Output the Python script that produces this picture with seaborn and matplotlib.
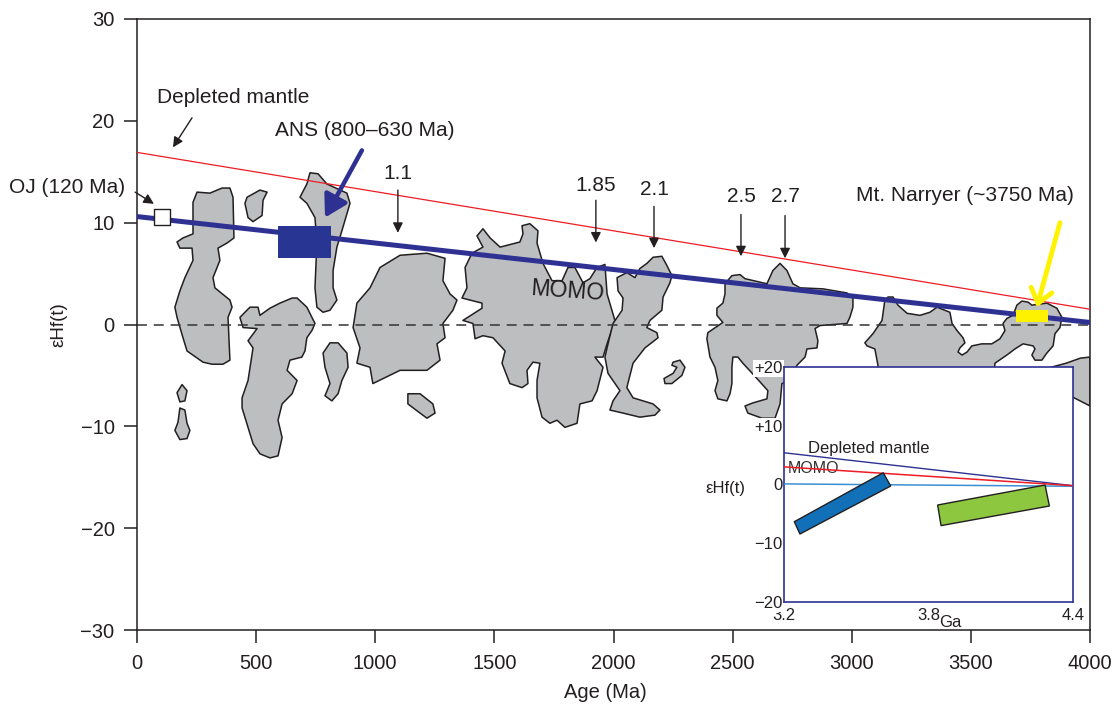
import matplotlib
matplotlib.use("Agg")
import matplotlib.pyplot as plt
from matplotlib.patches import Polygon
import seaborn as sns

# ------------------------------------------------------------------ data
AGE_TICKS = [0, 500, 1000, 1500, 2000, 2500, 3000, 3500, 4000]
EHF_TICKS = [-30, -20, -10, 0, 10, 20, 30]

# reference evolution lines (Age Ma, eHf)
DM_AGE = [0, 4000]
DM_EHF = [16.9, 1.5]
CRUST_AGE = [0, 4000]
CRUST_EHF = [10.6, 0.2]

# Ontong Java point
OJ_AGE = [103]
OJ_EHF = [10.6]

# Arabian-Nubian Shield box and Mt. Narryer box
ANS_AGE = [590, 815]
ANS_EHF = (6.5, 9.7)
NARRYER_AGE = [3690, 3825]
NARRYER_EHF = (0.2, 1.4)

# event arrows (Ga)
EVENT_LABELS = ["1.1", "1.85", "2.1", "2.5", "2.7"]
EVENT_AGES = [1095, 1926, 2170, 2535, 2720]
EVENT_TEXT_EHF = [14.8, 13.65, 13.26, 12.6, 12.6]
EVENT_TAIL_EHF = [13.2, 12.2, 11.6, 10.8, 10.7]
EVENT_TIP_EHF = [9.0, 8.05, 7.5, 6.7, 6.5]

# grey zircon-density fields (Age Ma, eHf)
BLOB_200_UPPER = [(252, 13.0), (306, 12.9), (357, 13.4), (390, 13.4), (403, 12.5), (407, 8.5),
                  (378, 8.0), (340, 7.5), (348, 6.3), (319, 4.6), (327, 3.6), (390, 2.4),
                  (399, 1.7), (382, 0.7), (390, -3.5), (361, -3.9), (315, -3.9), (277, -3.7),
                  (210, -2.6), (193, -1.3), (168, 0.7), (159, 1.7), (180, 3.3), (201, 4.6),
                  (235, 6.3), (231, 7.5), (180, 7.5), (168, 8.1), (193, 8.5), (235, 8.9),
                  (235, 12.0)]
BLOB_500_SMALL = [(462, 12.5), (516, 13.2), (546, 13.0), (529, 12.2), (525, 10.7), (487, 10.1),
                  (466, 10.5), (453, 11.9)]
BLOB_750_TALL = [(726, 14.9), (760, 14.8), (797, 13.8), (881, 12.9), (894, 11.9), (860, 9.2),
                 (839, 7.6), (823, 5.3), (823, 3.6), (839, 2.4), (810, 1.4), (781, 1.2),
                 (755, 1.7), (747, 3.6), (755, 8.0), (747, 10.5), (713, 11.9), (684, 12.5),
                 (713, 13.8)]
BLOB_550_LOWER = [(432, 0.7), (474, 1.7), (508, 1.7), (516, 0.9), (558, 1.6), (600, 2.1),
                  (651, 2.6), (672, 2.6), (713, 1.7), (747, 0.1), (734, -0.6), (713, -1.3),
                  (705, -2.6), (692, -3.2), (642, -3.5), (630, -4.5), (672, -5.5), (651, -6.8),
                  (609, -7.8), (592, -9.4), (609, -11.1), (592, -12.9), (558, -13.1),
                  (516, -12.7), (487, -11.7), (441, -8.2), (441, -7.2), (466, -5.5),
                  (487, -2.3), (466, -1.6), (504, -0.4), (445, -0.3)]
BLOB_830_SMALL = [(810, -1.8), (844, -1.8), (881, -2.8), (886, -4.2), (860, -5.5), (844, -6.8),
                  (818, -7.5), (789, -7.0), (810, -5.8), (789, -4.2), (781, -2.8)]
BLOB_1100 = [(1020, 5.6), (1104, 6.8), (1217, 7.0), (1293, 6.5), (1284, 4.3), (1314, 3.0),
             (1343, 2.4), (1326, 1.4), (1284, 0.1), (1293, -1.3), (1259, -1.9), (1272, -3.5),
             (1217, -4.5), (1104, -4.5), (990, -5.8), (978, -4.2), (923, -3.8), (936, -2.3),
             (907, -0.3), (923, 2.1), (978, 3.6)]
BLOB_1200_SMALL = [(1137, -6.8), (1188, -6.8), (1242, -7.8), (1251, -8.7), (1217, -9.2),
                   (1188, -8.7), (1137, -7.8)]
BLOB_190_DOT_A = [(189, -5.9), (210, -6.5), (201, -7.5), (180, -7.6), (168, -6.7)]
BLOB_190_DOT_B = [(180, -8.2), (201, -8.4), (210, -9.7), (222, -10.4), (210, -11.2),
                  (180, -11.3), (159, -10.4), (172, -9.6)]
BLOB_MOMO = [(1364, 2.6), (1385, 3.6), (1377, 5.6), (1406, 7.0), (1452, 7.6), (1427, 8.7),
             (1452, 9.4), (1482, 8.5), (1524, 7.6), (1607, 8.1), (1620, 8.9), (1616, 9.7),
             (1649, 9.9), (1683, 9.2), (1679, 8.0), (1704, 6.0), (1742, 4.3), (1784, 4.3),
             (1809, 5.6), (1838, 5.6), (1872, 4.1), (1901, 4.5), (1931, 5.6), (1964, 5.9),
             (1973, 3.0), (2006, 0.4), (1973, -1.9), (1956, -3.2), (1922, -3.2), (1956, -4.2),
             (1931, -6.5), (1910, -7.5), (1859, -7.8), (1847, -9.7), (1796, -10.1),
             (1763, -9.4), (1733, -9.7), (1700, -9.1), (1679, -7.2), (1679, -5.5),
             (1691, -3.8), (1662, -3.7), (1637, -4.5), (1641, -5.8), (1616, -6.2),
             (1565, -5.8), (1532, -3.8), (1545, -2.6), (1494, -1.3), (1452, -1.1),
             (1419, -1.4), (1410, 0.1), (1368, 0.4), (1448, 1.6), (1448, 2.1)]
BLOB_2100 = [(2166, 6.6), (2203, 6.7), (2224, 5.8), (2245, 4.8), (2237, 4.1), (2208, 2.7),
             (2203, 1.4), (2153, 0.4), (2140, -0.3), (2182, -0.8), (2187, -1.3), (2132, -2.3),
             (2082, -3.8), (2056, -6.2), (2082, -7.2), (2166, -7.8), (2195, -8.4),
             (2174, -8.9), (2111, -9.1), (2040, -8.7), (1985, -8.4), (1998, -7.5),
             (2027, -6.5), (1977, -4.8), (1964, -3.2), (1977, -1.9), (1998, 0.1),
             (2036, 1.4), (2040, 2.6), (2019, 3.3), (2015, 4.6), (2056, 5.1), (2090, 4.6),
             (2111, 5.5), (2140, 6.0)]
BLOB_2270_SMALL = [(2250, -3.7), (2279, -3.5), (2300, -4.2), (2287, -5.0), (2245, -5.8),
                   (2216, -5.8), (2212, -5.3), (2250, -4.8), (2266, -4.2), (2245, -4.0)]
BLOB_2600 = [(2468, 4.0), (2497, 4.8), (2531, 4.9), (2552, 4.5), (2644, 4.0), (2669, 5.3),
             (2699, 6.0), (2728, 5.3), (2753, 4.0), (2783, 3.6), (2879, 3.5), (2980, 3.1),
             (3005, 2.6), (3005, 1.7), (2992, 0.7), (2980, 0.1), (2867, -0.1), (2846, -0.4),
             (2858, -1.6), (2854, -2.3), (2812, -2.4), (2804, -3.2), (2770, -4.0),
             (2741, -5.5), (2707, -5.8), (2699, -7.8), (2678, -9.2), (2623, -9.2),
             (2564, -8.7), (2552, -8.0), (2585, -7.7), (2644, -7.3), (2648, -6.5),
             (2602, -5.3), (2543, -3.8), (2522, -3.2), (2501, -3.2), (2497, -4.2),
             (2497, -5.8), (2489, -6.8), (2476, -7.5), (2438, -7.3), (2426, -6.5),
             (2438, -5.5), (2426, -4.2), (2405, -3.2), (2392, -1.4), (2396, -0.8),
             (2459, 0.2), (2434, 0.9), (2434, 1.6), (2459, 2.1), (2468, 3.0)]
BLOB_3500 = [(3055, -1.8), (3089, -0.9), (3127, 0.4), (3139, 2.4), (3152, 2.7), (3173, 2.7),
             (3194, 1.9), (3232, 1.1), (3286, 0.9), (3328, 1.2), (3358, 1.7), (3412, 1.2),
             (3421, 0.1), (3442, -0.6), (3467, -1.3), (3475, -1.8), (3454, -2.3),
             (3446, -2.7), (3463, -3.0), (3484, -2.7), (3504, -2.1), (3546, -1.9),
             (3588, -1.9), (3622, -1.4), (3643, -0.6), (3635, 0.1), (3651, 0.6), (3677, 0.9),
             (3693, 1.9), (3714, 2.3), (3740, 2.2), (3756, 1.9), (3819, 2.1), (3861, 1.6),
             (3882, 0.7), (3874, -0.3), (3853, -0.9), (3845, -2.1), (3819, -2.8),
             (3798, -3.5), (3769, -3.5), (3756, -3.0), (3769, -2.4), (3761, -2.1),
             (3719, -1.9), (3685, -2.4), (3651, -3.0), (3601, -3.8), (3593, -6.0),
             (3110, -6.0), (3110, -4.0), (3097, -2.4), (3064, -2.1)]
BLOB_4000_EDGE = [(3820, -4.3), (3900, -3.8), (3960, -3.3), (4000, -3.2), (4000, -8.0),
                  (3900, -6.8), (3820, -6.3)]

BLOBS = [BLOB_200_UPPER, BLOB_500_SMALL, BLOB_750_TALL, BLOB_550_LOWER, BLOB_830_SMALL,
         BLOB_1100, BLOB_1200_SMALL, BLOB_190_DOT_A, BLOB_190_DOT_B, BLOB_MOMO, BLOB_2100,
         BLOB_2270_SMALL, BLOB_2600, BLOB_3500, BLOB_4000_EDGE]

# inset (Ga, eHf)
INSET_GA = [3.2, 4.4]
INSET_DM_EHF = [5.4, -0.2]
INSET_MOMO_EHF = [3.0, -0.2]
INSET_ZERO_EHF = [0.1, -0.3]
INSET_BLUE_FIELD = [(3.243, -6.33), (3.266, -8.43), (3.643, -0.26), (3.612, 2.0)]
INSET_GREEN_FIELD = [(3.838, -3.49), (3.852, -7.0), (4.302, -3.66), (4.284, -0.09)]
INSET_XTICKS = [3.2, 3.8, 4.4]
INSET_XTICKLABELS = ["3.2", "3.8", "4.4"]
INSET_YTICKS = [-20, -10, 0, 10, 20]
INSET_YTICKLABELS = ["\u221220", "\u221210", "0", "+10", "+20"]

# ------------------------------------------------------------------ style
sns.set_style("ticks")
plt.rcParams["font.family"] = ["Liberation Sans", "DejaVu Sans"]
INK = "#231f20"
GREY = "#bcbec0"
NAVY = "#2e3192"
RED = "#ed1c24"

fig = plt.figure(figsize=(11.15, 7.04), dpi=100)
ax = fig.add_axes([137 / 1115, 1 - 630 / 704, 953 / 1115, 611 / 704])

for blob in BLOBS:
    ax.add_patch(Polygon(blob, closed=True, facecolor=GREY, edgecolor=INK,
                         linewidth=1.1, joinstyle="round", zorder=1))

ax.axhline(0, color="#333333", lw=1.1, ls=(0, (6.5, 4.5)), zorder=2)
sns.lineplot(x=DM_AGE, y=DM_EHF, ax=ax, color=RED, lw=0.9, zorder=3)
sns.lineplot(x=CRUST_AGE, y=CRUST_EHF, ax=ax, color=NAVY, lw=3.6, zorder=4)

ax.fill_between(ANS_AGE, ANS_EHF[0], ANS_EHF[1], color="#283593", lw=0, zorder=5)
ax.fill_between(NARRYER_AGE, NARRYER_EHF[0], NARRYER_EHF[1], color="#fff200", lw=0, zorder=5)
sns.scatterplot(x=OJ_AGE, y=OJ_EHF, ax=ax, marker="s", s=125, facecolor="white",
                edgecolor=INK, linewidth=1.0, zorder=6)

tkw = dict(fontsize=15, color=INK)
black_arrow = dict(arrowstyle="-|>", color=INK, lw=1.0, mutation_scale=15,
                   shrinkA=0, shrinkB=0)

ax.text(84, 22.3, "Depleted mantle", ha="left", va="center", **tkw)
ax.annotate("", xy=(151, 17.4), xytext=(231, 20.3), arrowprops=black_arrow)

ax.text(-50, 13.5, "OJ (120 Ma)", ha="right", va="center", clip_on=False, **tkw)
ax.annotate("", xy=(71, 11.85), xytext=(-8, 13.0), arrowprops=black_arrow,
            annotation_clip=False)

ax.text(579, 19.05, "ANS (800\u2013630 Ma)", ha="left", va="center", **tkw)
ax.annotate("", xy=(789, 10.5), xytext=(944, 17.1),
            arrowprops=dict(arrowstyle="-|>,head_length=0.6,head_width=0.35", color=NAVY,
                            lw=3.2, mutation_scale=22, shrinkA=0, shrinkB=0))

for lab, age, ty, t0, t1 in zip(EVENT_LABELS, EVENT_AGES, EVENT_TEXT_EHF,
                                EVENT_TAIL_EHF, EVENT_TIP_EHF):
    ax.text(age, ty, lab, ha="center", va="center", **tkw)
    ax.annotate("", xy=(age, t1), xytext=(age, t0), arrowprops=black_arrow)

ax.text(3018, 12.67, "Mt. Narryer (~3750 Ma)", ha="left", va="center", **tkw)
ax.annotate("", xy=(3777, 1.7), xytext=(3874, 10.0),
            arrowprops=dict(arrowstyle="->,head_length=0.45,head_width=0.35",
                            color="#fff200", lw=3.5, mutation_scale=22,
                            shrinkA=0, shrinkB=0))

ax.text(1805, 3.3, "MOMO", fontsize=16.5, rotation=-4, ha="center", va="center",
        color=INK, zorder=3)

ax.set_xlim(0, 4000)
ax.set_ylim(-30, 30)
ax.set_xticks(AGE_TICKS)
ax.set_yticks(EHF_TICKS)
for sp in ax.spines.values():
    sp.set_visible(True)
    sp.set_color(INK)
    sp.set_linewidth(1.1)
ax.tick_params(direction="out", length=9.2, width=1.1, color=INK, labelcolor=INK,
               labelsize=14.5)
ax.tick_params(axis="x", pad=8)
ax.tick_params(axis="y", pad=7)
ax.set_xlabel("Age (Ma)", fontsize=14.5, color=INK)
ax.xaxis.set_label_coords(0.491, -0.087)
ax.set_ylabel("\u03b5Hf(t)", fontsize=13.5, color=INK)
ax.yaxis.set_label_coords(-0.073, 0.499)

# ------------------------------------------------------------------ inset
axin = fig.add_axes([784 / 1115, 1 - 602 / 704, 289 / 1115, 235 / 704])
axin.set_facecolor("white")
sns.lineplot(x=INSET_GA, y=INSET_ZERO_EHF, ax=axin, color="#3a8fd2", lw=1.1, zorder=3)
sns.lineplot(x=INSET_GA, y=INSET_DM_EHF, ax=axin, color=NAVY, lw=1.0, zorder=4)
sns.lineplot(x=INSET_GA, y=INSET_MOMO_EHF, ax=axin, color=RED, lw=1.1, zorder=4)
axin.add_patch(Polygon(INSET_BLUE_FIELD, closed=True, facecolor="#1170b8",
                       edgecolor=INK, lw=1.0, zorder=5))
axin.add_patch(Polygon(INSET_GREEN_FIELD, closed=True, facecolor="#8dc63f",
                       edgecolor=INK, lw=1.0, zorder=5))
axin.text(3.30, 6.2, "Depleted mantle", fontsize=12, ha="left", va="center", color=INK,
          zorder=3)
axin.text(3.217, 2.8, "MOMO", fontsize=11.5, ha="left", va="center", color="#333333",
          zorder=3)
axin.set_xlim(3.2, 4.4)
axin.set_ylim(-20, 20)
axin.set_xticks(INSET_XTICKS)
axin.set_xticklabels(INSET_XTICKLABELS)
axin.set_yticks(INSET_YTICKS)
axin.set_yticklabels(INSET_YTICKLABELS)
axin.tick_params(length=0, labelsize=12, labelcolor=INK)
axin.tick_params(axis="x", pad=4)
axin.tick_params(axis="y", pad=1)
for lbl in axin.get_xticklabels() + axin.get_yticklabels():
    lbl.set_bbox(dict(facecolor="white", edgecolor="none", pad=1.0))
for sp in axin.spines.values():
    sp.set_visible(True)
    sp.set_color(NAVY)
    sp.set_linewidth(1.2)
axin.set_xlabel("")
axin.set_ylabel("")
axin.text(3.889, -0.089, "Ga", transform=axin.get_xaxis_transform(), fontsize=12,
          ha="center", va="center", color=INK)
axin.text(-0.204, 0.485, "\u03b5Hf(t)", transform=axin.transAxes, fontsize=12,
          ha="center", va="center", color=INK)

fig.savefig("out.png", dpi=100)
